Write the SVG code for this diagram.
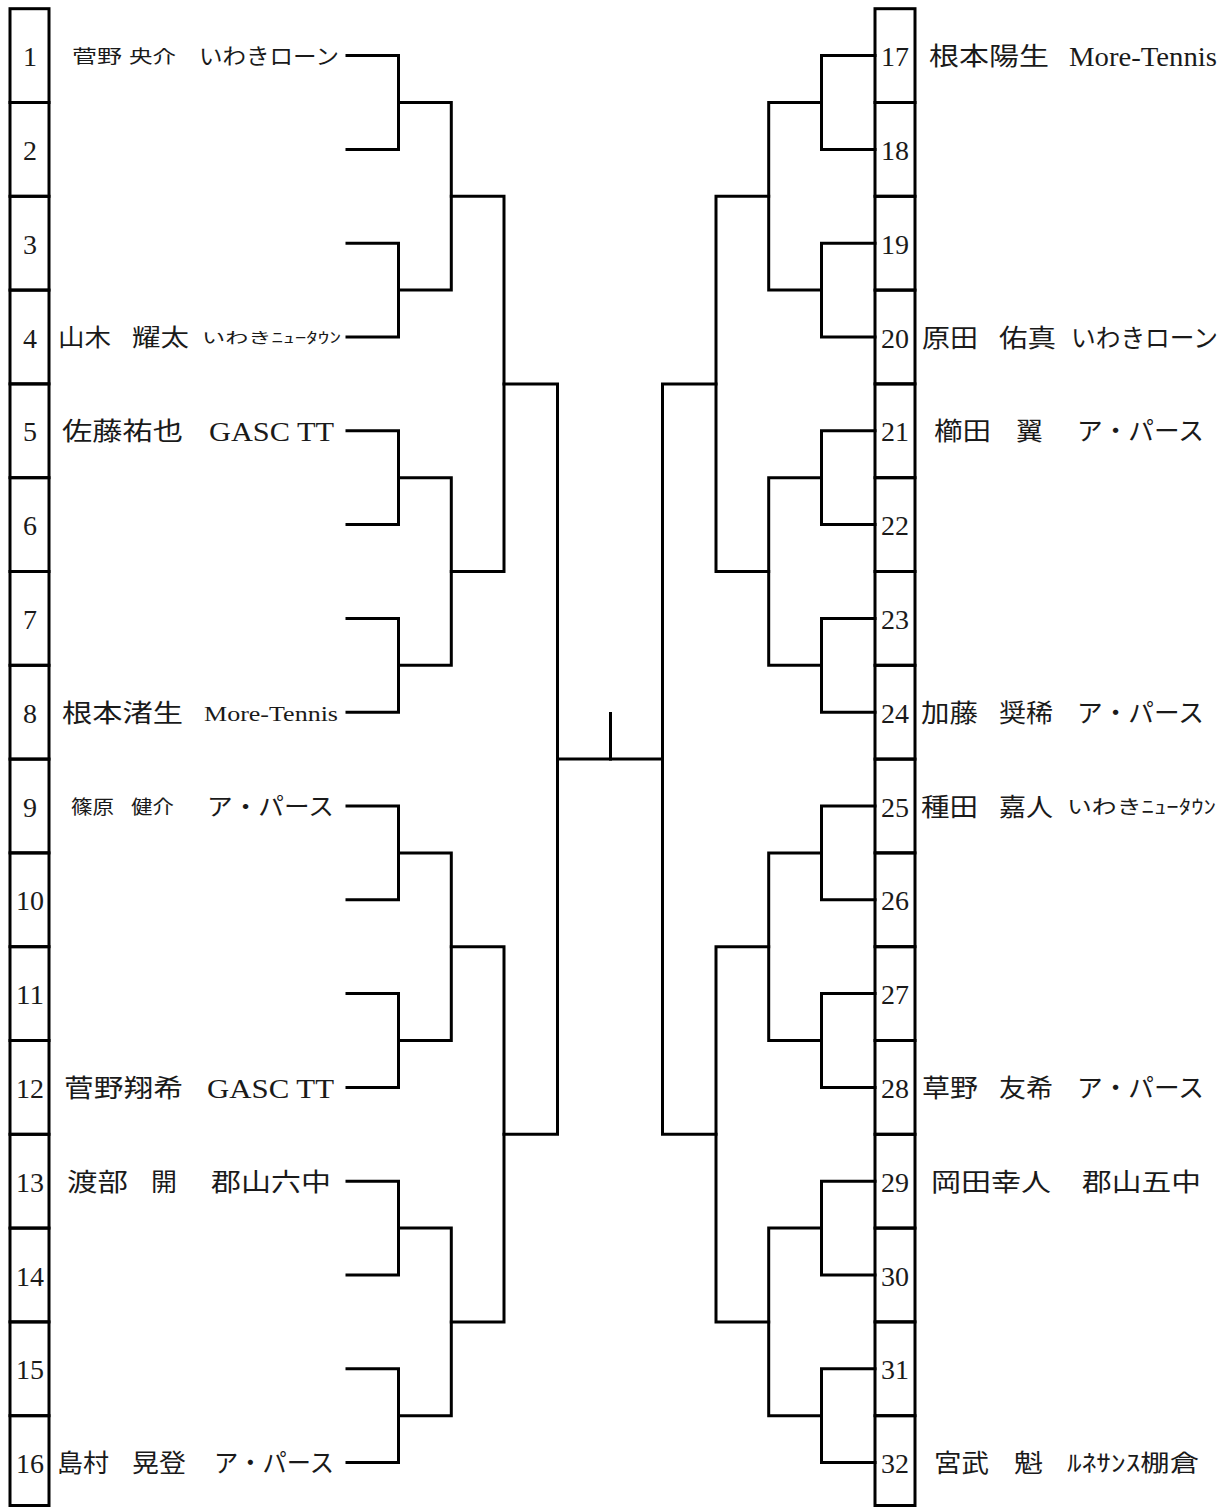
<svg xmlns="http://www.w3.org/2000/svg" width="1221" height="1507" viewBox="0 0 1221 1507">
<style>
.cell{fill:none;stroke:#000;stroke-width:3}
.n{font-family:"Liberation Serif","Noto Sans CJK JP",serif;font-size:28px;text-anchor:middle;dominant-baseline:central;fill:#1a1a1a}
.t{font-family:"Liberation Serif","Noto Sans CJK JP",serif;dominant-baseline:central;fill:#1a1a1a}
.s18{font-size:18px}.s16{font-size:15px}.s19{font-size:19px}.s20{font-size:19px}.s22{font-size:22px}.s23{font-size:23px}.s24{font-size:24px}.s26{font-size:25px}.s27{font-size:27px}.s28{font-size:28px}
.ln{fill:none;stroke:#000;stroke-width:3;stroke-linecap:square;stroke-linejoin:miter}
</style>
<rect width="1221" height="1507" fill="#fff"/>
<g id="left">
<g id="p1"><rect class="cell" x="10" y="8.7" width="39" height="93.8"/><text class="n" x="30" y="56.6">1</text>
<text class="t s18" x="72" y="56.6" textLength="50" lengthAdjust="spacingAndGlyphs">菅野</text><text class="t s18" x="129" y="56.6" textLength="47" lengthAdjust="spacingAndGlyphs">央介</text><text class="t s22" x="199" y="56.6" textLength="140" lengthAdjust="spacingAndGlyphs">いわきローン</text></g>
<g id="p2"><rect class="cell" x="10" y="102.5" width="39" height="93.8"/><text class="n" x="30" y="150.4">2</text></g>
<g id="p3"><rect class="cell" x="10" y="196.3" width="39" height="93.8"/><text class="n" x="30" y="244.2">3</text></g>
<g id="p4"><rect class="cell" x="10" y="290.1" width="39" height="93.8"/><text class="n" x="30" y="338">4</text>
<text class="t s24" x="58" y="338" textLength="53" lengthAdjust="spacingAndGlyphs">山木</text><text class="t s24" x="132" y="338" textLength="57" lengthAdjust="spacingAndGlyphs">耀太</text><text class="t s16" x="202" y="338" textLength="139" lengthAdjust="spacingAndGlyphs">いわきﾆｭｰﾀｳﾝ</text></g>
<g id="p5"><rect class="cell" x="10" y="383.9" width="39" height="93.8"/><text class="n" x="30" y="431.8">5</text>
<text class="t s26" x="62" y="431.8" textLength="121" lengthAdjust="spacingAndGlyphs">佐藤祐也</text><text class="t s28" x="209" y="431.8" textLength="125" lengthAdjust="spacingAndGlyphs">GASC TT</text></g>
<g id="p6"><rect class="cell" x="10" y="477.7" width="39" height="93.8"/><text class="n" x="30" y="525.6">6</text></g>
<g id="p7"><rect class="cell" x="10" y="571.5" width="39" height="93.8"/><text class="n" x="30" y="619.4">7</text></g>
<g id="p8"><rect class="cell" x="10" y="665.3" width="39" height="93.8"/><text class="n" x="30" y="713.2">8</text>
<text class="t s26" x="62" y="713.2" textLength="121" lengthAdjust="spacingAndGlyphs">根本渚生</text><text class="t s22" x="204" y="713.2" textLength="134" lengthAdjust="spacingAndGlyphs">More-Tennis</text></g>
<g id="p9"><rect class="cell" x="10" y="759.1" width="39" height="93.8"/><text class="n" x="30" y="807">9</text>
<text class="t s19" x="71" y="807" textLength="43" lengthAdjust="spacingAndGlyphs">篠原</text><text class="t s19" x="131" y="807" textLength="43" lengthAdjust="spacingAndGlyphs">健介</text><text class="t s24" x="207" y="807" textLength="127" lengthAdjust="spacingAndGlyphs">ア・パース</text></g>
<g id="p10"><rect class="cell" x="10" y="852.9" width="39" height="93.8"/><text class="n" x="30" y="900.8" textLength="28" lengthAdjust="spacingAndGlyphs">10</text></g>
<g id="p11"><rect class="cell" x="10" y="946.7" width="39" height="93.8"/><text class="n" x="30" y="994.6" textLength="28" lengthAdjust="spacingAndGlyphs">11</text></g>
<g id="p12"><rect class="cell" x="10" y="1040.5" width="39" height="93.8"/><text class="n" x="30" y="1088.4" textLength="28" lengthAdjust="spacingAndGlyphs">12</text>
<text class="t s26" x="64" y="1088.4" textLength="119" lengthAdjust="spacingAndGlyphs">菅野翔希</text><text class="t s28" x="207" y="1088.4" textLength="127" lengthAdjust="spacingAndGlyphs">GASC TT</text></g>
<g id="p13"><rect class="cell" x="10" y="1134.3" width="39" height="93.8"/><text class="n" x="30" y="1182.2" textLength="28" lengthAdjust="spacingAndGlyphs">13</text>
<text class="t s26" x="67" y="1182.2" textLength="61" lengthAdjust="spacingAndGlyphs">渡部</text><text class="t s26" x="151" y="1182.2" textLength="26" lengthAdjust="spacingAndGlyphs">開</text><text class="t s26" x="211" y="1182.2" textLength="120" lengthAdjust="spacingAndGlyphs">郡山六中</text></g>
<g id="p14"><rect class="cell" x="10" y="1228.1" width="39" height="93.8"/><text class="n" x="30" y="1276" textLength="28" lengthAdjust="spacingAndGlyphs">14</text></g>
<g id="p15"><rect class="cell" x="10" y="1321.9" width="39" height="93.8"/><text class="n" x="30" y="1369.8" textLength="28" lengthAdjust="spacingAndGlyphs">15</text></g>
<g id="p16"><rect class="cell" x="10" y="1415.7" width="39" height="89.8"/><text class="n" x="30" y="1463.6" textLength="28" lengthAdjust="spacingAndGlyphs">16</text>
<text class="t s26" x="57" y="1463.6" textLength="52" lengthAdjust="spacingAndGlyphs">島村</text><text class="t s26" x="132" y="1463.6" textLength="54" lengthAdjust="spacingAndGlyphs">晃登</text><text class="t s26" x="214" y="1463.6" textLength="120" lengthAdjust="spacingAndGlyphs">ア・パース</text></g>
</g>
<g id="right">
<g id="p17"><rect class="cell" x="875" y="8.7" width="40" height="93.8"/><text class="n" x="895" y="56.6" textLength="28" lengthAdjust="spacingAndGlyphs">17</text>
<text class="t s26" x="929" y="56.6" textLength="120" lengthAdjust="spacingAndGlyphs">根本陽生</text><text class="t s27" x="1069" y="56.6" textLength="148" lengthAdjust="spacingAndGlyphs">More-Tennis</text></g>
<g id="p18"><rect class="cell" x="875" y="102.5" width="40" height="93.8"/><text class="n" x="895" y="150.4" textLength="28" lengthAdjust="spacingAndGlyphs">18</text></g>
<g id="p19"><rect class="cell" x="875" y="196.3" width="40" height="93.8"/><text class="n" x="895" y="244.2" textLength="28" lengthAdjust="spacingAndGlyphs">19</text></g>
<g id="p20"><rect class="cell" x="875" y="290.1" width="40" height="93.8"/><text class="n" x="895" y="338" textLength="28" lengthAdjust="spacingAndGlyphs">20</text>
<text class="t s26" x="922" y="338" textLength="56" lengthAdjust="spacingAndGlyphs">原田</text><text class="t s26" x="999" y="338" textLength="57" lengthAdjust="spacingAndGlyphs">佑真</text><text class="t s26" x="1071" y="338" textLength="147" lengthAdjust="spacingAndGlyphs">いわきローン</text></g>
<g id="p21"><rect class="cell" x="875" y="383.9" width="40" height="93.8"/><text class="n" x="895" y="431.8" textLength="28" lengthAdjust="spacingAndGlyphs">21</text>
<text class="t s26" x="934" y="431.8" textLength="57" lengthAdjust="spacingAndGlyphs">櫛田</text><text class="t s26" x="1016" y="431.8" textLength="27" lengthAdjust="spacingAndGlyphs">翼</text><text class="t s26" x="1077" y="431.8" textLength="127" lengthAdjust="spacingAndGlyphs">ア・パース</text></g>
<g id="p22"><rect class="cell" x="875" y="477.7" width="40" height="93.8"/><text class="n" x="895" y="525.6" textLength="28" lengthAdjust="spacingAndGlyphs">22</text></g>
<g id="p23"><rect class="cell" x="875" y="571.5" width="40" height="93.8"/><text class="n" x="895" y="619.4" textLength="28" lengthAdjust="spacingAndGlyphs">23</text></g>
<g id="p24"><rect class="cell" x="875" y="665.3" width="40" height="93.8"/><text class="n" x="895" y="713.2" textLength="28" lengthAdjust="spacingAndGlyphs">24</text>
<text class="t s26" x="921" y="713.2" textLength="57" lengthAdjust="spacingAndGlyphs">加藤</text><text class="t s26" x="999" y="713.2" textLength="54" lengthAdjust="spacingAndGlyphs">奨稀</text><text class="t s26" x="1077" y="713.2" textLength="127" lengthAdjust="spacingAndGlyphs">ア・パース</text></g>
<g id="p25"><rect class="cell" x="875" y="759.1" width="40" height="93.8"/><text class="n" x="895" y="807" textLength="28" lengthAdjust="spacingAndGlyphs">25</text>
<text class="t s26" x="921" y="807" textLength="57" lengthAdjust="spacingAndGlyphs">種田</text><text class="t s26" x="999" y="807" textLength="54" lengthAdjust="spacingAndGlyphs">嘉人</text><text class="t s20" x="1067" y="807" textLength="149" lengthAdjust="spacingAndGlyphs">いわきﾆｭｰﾀｳﾝ</text></g>
<g id="p26"><rect class="cell" x="875" y="852.9" width="40" height="93.8"/><text class="n" x="895" y="900.8" textLength="28" lengthAdjust="spacingAndGlyphs">26</text></g>
<g id="p27"><rect class="cell" x="875" y="946.7" width="40" height="93.8"/><text class="n" x="895" y="994.6" textLength="28" lengthAdjust="spacingAndGlyphs">27</text></g>
<g id="p28"><rect class="cell" x="875" y="1040.5" width="40" height="93.8"/><text class="n" x="895" y="1088.4" textLength="28" lengthAdjust="spacingAndGlyphs">28</text>
<text class="t s26" x="922" y="1088.4" textLength="56" lengthAdjust="spacingAndGlyphs">草野</text><text class="t s26" x="999" y="1088.4" textLength="54" lengthAdjust="spacingAndGlyphs">友希</text><text class="t s26" x="1077" y="1088.4" textLength="127" lengthAdjust="spacingAndGlyphs">ア・パース</text></g>
<g id="p29"><rect class="cell" x="875" y="1134.3" width="40" height="93.8"/><text class="n" x="895" y="1182.2" textLength="28" lengthAdjust="spacingAndGlyphs">29</text>
<text class="t s26" x="931" y="1182.2" textLength="120" lengthAdjust="spacingAndGlyphs">岡田幸人</text><text class="t s26" x="1082" y="1182.2" textLength="119" lengthAdjust="spacingAndGlyphs">郡山五中</text></g>
<g id="p30"><rect class="cell" x="875" y="1228.1" width="40" height="93.8"/><text class="n" x="895" y="1276" textLength="28" lengthAdjust="spacingAndGlyphs">30</text></g>
<g id="p31"><rect class="cell" x="875" y="1321.9" width="40" height="93.8"/><text class="n" x="895" y="1369.8" textLength="28" lengthAdjust="spacingAndGlyphs">31</text></g>
<g id="p32"><rect class="cell" x="875" y="1415.7" width="40" height="89.8"/><text class="n" x="895" y="1463.6" textLength="28" lengthAdjust="spacingAndGlyphs">32</text>
<text class="t s26" x="934" y="1463.6" textLength="55" lengthAdjust="spacingAndGlyphs">宮武</text><text class="t s26" x="1014" y="1463.6" textLength="29" lengthAdjust="spacingAndGlyphs">魁</text><text class="t s23" x="1067" y="1463.6" textLength="132" lengthAdjust="spacingAndGlyphs">ﾙﾈｻﾝｽ棚倉</text></g>
</g>
<g id="connectors" class="ln">
<path d="M347 55.6H398.5V149.4H347M347 243.2H398.5V337H347M347 430.8H398.5V524.6H347M347 618.4H398.5V712.2H347M347 806H398.5V899.8H347M347 993.6H398.5V1087.4H347M347 1181.2H398.5V1275H347M347 1368.8H398.5V1462.6H347"/>
<path d="M398.5 102.5H451.3V290.1H398.5M398.5 477.7H451.3V665.3H398.5M398.5 852.9H451.3V1040.5H398.5M398.5 1228.1H451.3V1415.7H398.5"/>
<path d="M451.3 196.3H504V571.5H451.3M451.3 946.7H504V1321.9H451.3"/>
<path d="M504 383.9H557.5V1134.3H504M557.5 759.1H662.5"/>
<path d="M875 55.6H821.5V149.4H875M875 243.2H821.5V337H875M875 430.8H821.5V524.6H875M875 618.4H821.5V712.2H875M875 806H821.5V899.8H875M875 993.6H821.5V1087.4H875M875 1181.2H821.5V1275H875M875 1368.8H821.5V1462.6H875"/>
<path d="M821.5 102.5H768.7V290.1H821.5M821.5 477.7H768.7V665.3H821.5M821.5 852.9H768.7V1040.5H821.5M821.5 1228.1H768.7V1415.7H821.5"/>
<path d="M768.7 196.3H716V571.5H768.7M768.7 946.7H716V1321.9H768.7"/>
<path d="M716 383.9H662.5V1134.3H716"/>
<path d="M610.5 713.5V759.1"/>
</g>
</svg>
